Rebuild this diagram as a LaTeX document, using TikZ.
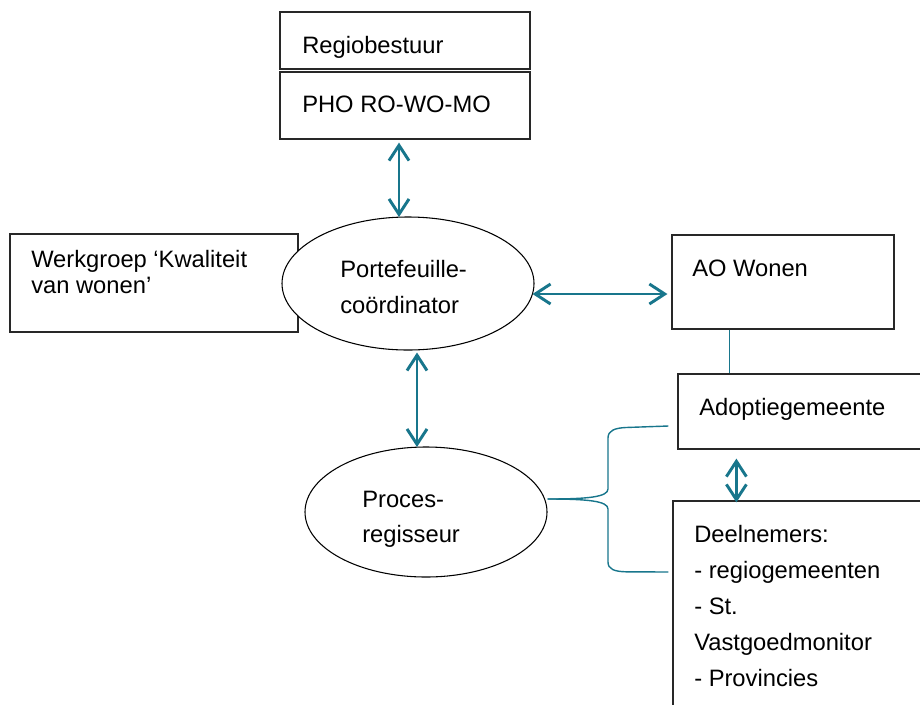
\documentclass[tikz,border=0pt]{standalone}
\usepackage{fontspec}
\setmainfont{Liberation Sans}
\usetikzlibrary{arrows.meta,shapes.geometric,fit,calc}
\definecolor{tealc}{RGB}{24,118,140}
\definecolor{boxc}{RGB}{40,40,40}
\begin{document}
\begin{tikzpicture}[x=0.75pt,y=-0.75pt,
  box/.style={draw=boxc,line width=0.9pt,fill=white,rectangle,inner sep=0pt},
  oval/.style={draw=black,line width=0.8pt,fill=white,ellipse,inner sep=0pt},
  lbl/.style={anchor=base west,inner sep=0pt,font=\fontsize{17.8}{20}\selectfont},
  dbl/.style={draw=tealc,line width=2.2pt,{Straight Barb[length=11.5pt,width=15pt]}-{Straight Barb[length=11.5pt,width=15pt]}},
  tline/.style={draw=tealc,line width=1.05pt}]
\useasboundingbox (0,0) rectangle (920,704);
\clip (0,0) rectangle (920,704);
\fill[white] (0,0) rectangle (920,704);
% boxes
\node[box,fit={(280,12)(530,69)}] (reg) {};
\node[box,fit={(280,72)(530,139)}] (pho) {};
\node[box,fit={(10,234)(298,332)}] (wg) {};
\node[box,fit={(672,235)(894,329)}] (ao) {};
\node[box,fit={(678,374)(940,449)}] (ad) {};
\node[box,fit={(673,501)(940,730)}] (dn) {};
% ellipses
\node[oval,minimum width=189pt,minimum height=99.75pt] (pf) at (408,283.5) {};
\node[oval,minimum width=181.5pt,minimum height=97.5pt] (pr) at (426,512) {};
% texts
\node[lbl] (treg) at (302,53) {Regiobestuur};
\node[lbl] (tpho) at (302,112) {PHO RO-WO-MO};
\node[lbl] (twg1) at (31,267) {Werkgroep ‘Kwaliteit};
\node[lbl] (twg2) at (31,293) {van wonen’};
\node[lbl] (tpf1) at (340,277) {Portefeuille-};
\node[lbl] (tpf2) at (340,313) {coördinator};
\node[lbl] (tpr1) at (362,507) {Proces-};
\node[lbl] (tpr2) at (362,542) {regisseur};
\node[lbl] (tao) at (692,276) {AO Wonen};
\node[lbl] (tad) at (699,415) {Adoptiegemeente};
\node[lbl] (tdn1) at (694,542) {Deelnemers:};
\node[lbl] (tdn2) at (694,578) {- regiogemeenten};
\node[lbl] (tdn3) at (694,614) {- St.};
\node[lbl] (tdn4) at (694,650) {Vastgoedmonitor};
\node[lbl] (tdn5) at (694,686) {- Provincies};
% connectors
\draw[dbl] ($(pho.south)+(-6,3)$) -- ($(pf.north)+(-9,0.5)$);
\draw[dbl] ($(pf.south)+(9,2)$) -- ($(pr.north)+(-9,0.5)$);
\draw[dbl] ($(pf.east)+(-2,10.5)$) -- ($(ao.west)+(-4,12)$);
\draw[dbl] ($(ad.south west)+(59,9)$) -- ($(dn.north west)+(64,2)$);
\draw[tline] ($(ao.south west)+(58,0)$) -- ($(ad.north west)+(52,0)$);
% brace
\coordinate (bl) at ($(pr.east)+(0,-13)$);
\coordinate (bt) at ($(ad.west)+(-9,14.5)$);
\coordinate (bb) at ($(dn.west)+(-4,-43.5)$);
\draw[tline] (bl) .. controls ++(40,0) and (608,497) .. (608,489) -- (608,438)
  .. controls (608,431) and (614,428) .. (626,427.5) -- (bt);
\draw[tline] (bl) .. controls ++(40,0) and (608,501) .. (608,509) -- (608,562)
  .. controls (608,569) and (614,571.5) .. (626,571.8) -- (bb);
\end{tikzpicture}
\end{document}
